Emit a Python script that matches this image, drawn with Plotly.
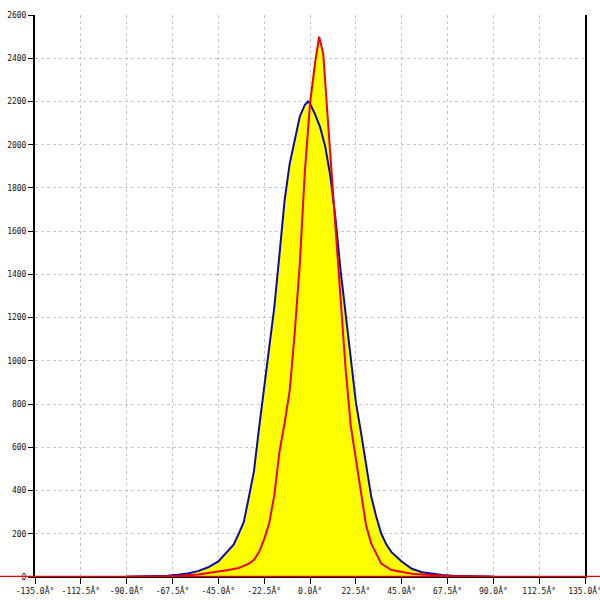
import plotly.graph_objects as go

# Series A (blue)
blue_x = [-90, -85, -80, -75, -70, -65, -60, -55, -50, -45, -40, -37.5, -35, -32.5, -30, -27.5, -25,
          -22.5, -20, -17.5, -15, -12.5, -10, -7.5, -5, -2.5, -1, 0, 2.5, 5, 7.5, 10, 12.5, 15,
          17.5, 20, 22.5, 25, 27.5, 30, 32.5, 35, 37.5, 40, 45, 50, 55, 60, 65, 70, 75, 80, 85, 90]
blue_y = [1, 2, 3, 4, 6, 10, 16, 27, 45, 72, 125, 150, 200, 255, 370, 490, 690,
          870, 1050, 1250, 1490, 1740, 1910, 2020, 2130, 2185, 2200, 2190, 2140, 2080, 1990, 1855, 1660, 1420,
          1220, 1020, 810, 670, 520, 375, 280, 200, 150, 115, 72, 38, 22, 14, 9, 6, 4, 3, 2, 1]

# Series B (red)
red_x = [-90, -85, -80, -75, -70, -65, -60, -55, -50, -45, -40, -35, -30, -27.5, -25, -22.5, -20,
         -17.5, -15, -12.5, -10, -7.5, -5, -2.5, 0, 2.5, 4.5, 6.5, 8, 10, 12.5, 15, 17.5, 20,
         22.5, 25, 27.5, 30, 32.5, 35, 40, 45, 50, 55, 60, 65, 70, 75, 80, 85, 90]
red_y = [1, 1, 2, 2, 3, 5, 8, 12, 18, 24, 32, 42, 62, 80, 115, 175, 250,
         380, 580, 710, 860, 1130, 1450, 1880, 2190, 2380, 2500, 2420, 2200, 1950, 1620, 1290, 960, 700,
         540, 380, 240, 155, 105, 62, 32, 24, 15, 11, 8, 6, 4, 3, 2, 1, 1]

x_ticks = [-135 + 22.5 * i for i in range(13)]
x_labels = ["%.1fÂ°" % v for v in x_ticks]
y_ticks = list(range(0, 2601, 200))
y_labels = [str(v) for v in y_ticks]

fig = go.Figure()
fig.add_trace(go.Scatter(x=blue_x, y=blue_y, mode="none", fill="tozeroy",
                         fillcolor="#ffff00", showlegend=False, hoverinfo="skip"))
fig.add_trace(go.Scatter(x=red_x, y=red_y, mode="none", fill="tozeroy",
                         fillcolor="#ffff00", showlegend=False, hoverinfo="skip"))
fig.add_trace(go.Scatter(x=blue_x, y=blue_y, mode="lines",
                         line=dict(color="#0a0ab0", width=2), showlegend=False))
fig.add_trace(go.Scatter(x=red_x, y=red_y, mode="lines",
                         line=dict(color="#ee0000", width=2), showlegend=False))

fig.add_shape(type="line", xref="paper", yref="y", x0=-0.07, x1=1.04, y0=0, y1=0,
              line=dict(color="#ee0000", width=2.5), layer="above")

tickfont = dict(family="DejaVu Sans Mono", size=8, color="#111111")
fig.update_layout(
    width=600, height=600,
    margin=dict(l=35, r=15, t=15, b=23, autoexpand=False),
    paper_bgcolor="white", plot_bgcolor="white",
    xaxis=dict(range=[-135, 135], tickvals=x_ticks, ticktext=x_labels, tickfont=tickfont,
               showgrid=True, gridcolor="#c8c8c8", griddash="3px,3px", gridwidth=1,
               ticks="outside", ticklen=6, tickcolor="black", showline=True, linecolor="black",
               zeroline=False, mirror=False, automargin=False, ticklabeloverflow="allow"),
    yaxis=dict(range=[0, 2600], tickvals=y_ticks, ticktext=y_labels, tickfont=tickfont,
               showgrid=True, gridcolor="#c8c8c8", griddash="3px,3px", gridwidth=1,
               ticks="outside", ticklen=5, tickcolor="black", showline=True, linecolor="black",
               linewidth=2, zeroline=False, mirror=True, automargin=False,
               ticklabeloverflow="allow"),
)

fig.write_html("out.html", config={"displayModeBar": False},
               post_script="document.body.style.margin='0';")
